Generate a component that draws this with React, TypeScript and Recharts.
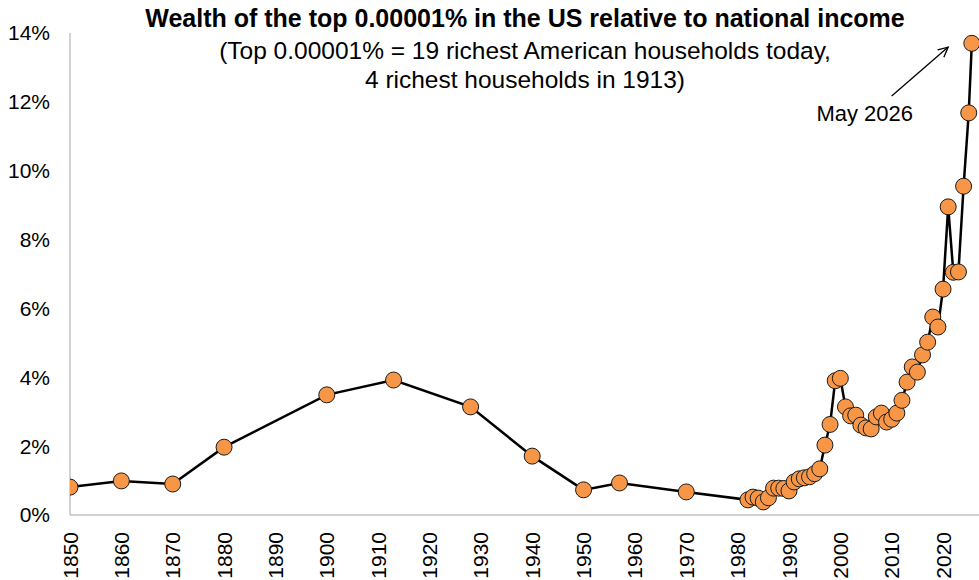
import React from "react"
import { LineChart, Line, XAxis, YAxis, ReferenceLine } from "recharts"

// year of each observation (last one is the May 2026 estimate)
const years = [
  1850, 1860, 1870, 1880, 1900, 1913, 1928, 1940, 1950, 1957, 1970,
  1982, 1983, 1984, 1985, 1986, 1987, 1988, 1989, 1990, 1991, 1992, 1993, 1994, 1995, 1996, 1997, 1998, 1999,
  2000, 2001, 2002, 2003, 2004, 2005, 2006, 2007, 2008, 2009, 2010, 2011, 2012, 2013, 2014, 2015, 2016, 2017,
  2018, 2019, 2020, 2021, 2022, 2023, 2024, 2025, 2025.6,
]

// wealth of the top 0.00001% as % of national income
const shares = [
  0.81, 0.99, 0.9, 1.97, 3.49, 3.92, 3.14, 1.71, 0.73, 0.93, 0.67,
  0.44, 0.52, 0.49, 0.38, 0.5, 0.78, 0.78, 0.77, 0.7, 0.96, 1.05, 1.08, 1.11, 1.2, 1.34, 2.03, 2.63, 3.9,
  3.97, 3.14, 2.88, 2.9, 2.61, 2.53, 2.5, 2.85, 2.96, 2.7, 2.78, 2.96, 3.33, 3.86, 4.3, 4.15, 4.65, 5.02,
  5.75, 5.46, 6.56, 8.95, 7.05, 7.06, 9.55, 11.68, 13.7,
]

const xTicks = [1850, 1860, 1870, 1880, 1890, 1900, 1910, 1920, 1930, 1940, 1950, 1960, 1970, 1980, 1990, 2000, 2010, 2020]
const yTicks = [0, 2, 4, 6, 8, 10, 12, 14]

const title = "Wealth of the top 0.00001% in the US relative to national income"
const subtitle = ["(Top 0.00001% = 19 richest American households today,", "4 richest households in 1913)"]
const noteText = "May 2026"
// arrow from the note to the latest point, in data units
const arrow = [
  { x: 2010, y: 12.17 },
  { x: 2021, y: 13.59 },
]

const data = years.map((year, i) => ({ year, share: shares[i] }))

const font = "'Liberation Sans', Arial, sans-serif"

function YearTick(props: any) {
  const { x, y, payload } = props
  const ty = y + 9
  return (
    <text
      x={x}
      y={ty}
      transform={`rotate(-90, ${x}, ${ty})`}
      textAnchor="end"
      dy="0.36em"
      fontSize={21}
      fontFamily={font}
      fill="#000"
    >
      {payload.value}
    </text>
  )
}

function Arrow(props: any) {
  const { x1, y1, x2, y2 } = props
  const ang = Math.atan2(y2 - y1, x2 - x1)
  const len = 11
  const spread = 0.45
  const ax = x2 - len * Math.cos(ang - spread)
  const ay = y2 - len * Math.sin(ang - spread)
  const bx = x2 - len * Math.cos(ang + spread)
  const by = y2 - len * Math.sin(ang + spread)
  return (
    <g>
      <line x1={x1} y1={y1} x2={x2} y2={y2} stroke="#000" strokeWidth={1.3} />
      <polyline points={`${ax},${ay} ${x2},${y2} ${bx},${by}`} fill="none" stroke="#000" strokeWidth={1.3} />
      <text x={x1 - 27} y={y1 + 17} textAnchor="middle" dy="0.35em" fontSize={22} fontFamily={font} fill="#000">
        {noteText}
      </text>
    </g>
  )
}

export default function App() {
  return (
    <div style={{ position: "absolute", left: 0, top: 0, width: 979, height: 580, background: "#fff", fontFamily: font }}>
      <div
        style={{
          position: "absolute",
          left: 70,
          width: 910,
          top: 5,
          textAlign: "center",
          fontWeight: "bold",
          fontSize: 25,
          lineHeight: "26px",
          color: "#000",
          whiteSpace: "nowrap",
        }}
      >
        {title}
      </div>
      <div
        style={{
          position: "absolute",
          left: 70,
          width: 910,
          top: 36,
          textAlign: "center",
          fontSize: 24.5,
          lineHeight: "29px",
          color: "#000",
          whiteSpace: "nowrap",
        }}
      >
        {subtitle.map((s) => (
          <div key={s}>{s}</div>
        ))}
      </div>
      <LineChart width={979} height={580} data={data} margin={{ top: 33, right: 0, bottom: 0, left: 0 }}>
        <XAxis
          dataKey="year"
          type="number"
          domain={[1850, 2027]}
          ticks={xTicks}
          interval={0}
          height={65}
          axisLine={{ stroke: "#a6a6a6", strokeWidth: 1 }}
          tickLine={false}
          tick={<YearTick />}
          allowDataOverflow
        />
        <YAxis
          type="number"
          domain={[0, 14]}
          ticks={yTicks}
          width={70}
          axisLine={{ stroke: "#a6a6a6", strokeWidth: 1 }}
          tickLine={false}
          tickSize={0}
          tickMargin={20}
          tickFormatter={(v) => `${v}%`}
          tick={{ fontSize: 21, fontFamily: font, fill: "#000" }}
        />
        <ReferenceLine segment={arrow} shape={<Arrow />} ifOverflow="visible" />
        <Line
          dataKey="share"
          type="linear"
          stroke="#000"
          strokeWidth={2.5}
          dot={{ r: 8, fill: "#F79646", stroke: "#1a1a1a", strokeWidth: 1 }}
          activeDot={false}
          isAnimationActive={false}
        />
      </LineChart>
    </div>
  )
}
